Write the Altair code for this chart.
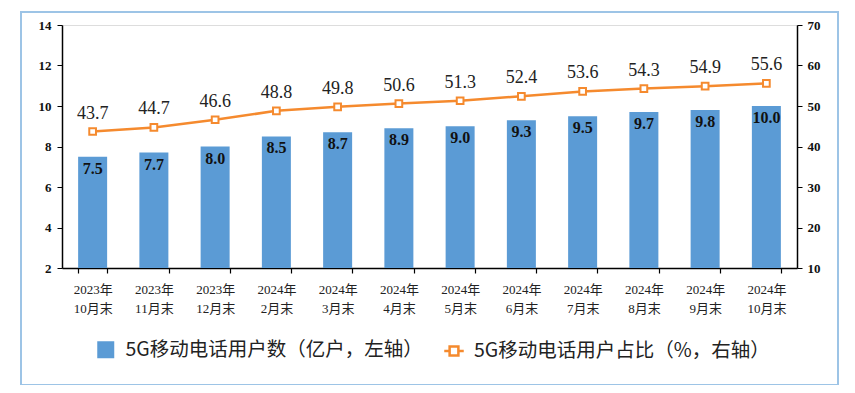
import altair as alt
import pandas as pd

months = ["2023年10月末", "2023年11月末", "2023年12月末", "2024年2月末", "2024年3月末",
          "2024年4月末", "2024年5月末", "2024年6月末", "2024年7月末", "2024年8月末",
          "2024年9月末", "2024年10月末"]
users = [7.5, 7.7, 8.0, 8.5, 8.7, 8.9, 9.0, 9.3, 9.5, 9.7, 9.8, 10.0]
share = [43.7, 44.7, 46.6, 48.8, 49.8, 50.6, 51.3, 52.4, 53.6, 54.3, 54.9, 55.6]

bar_name = "5G移动电话用户数（亿户，左轴）"
line_name = "5G移动电话用户占比（%，右轴）"

df = pd.DataFrame({"month": months, "users": users, "share": share,
                   "s1": bar_name, "s2": line_name})

BLUE = "#5B9BD5"
ORANGE = "#F58A2E"
SERIF = "Liberation Serif, Noto Sans CJK SC"
CJK = "Noto Sans CJK SC"

x = alt.X("month:N", sort=None, title=None,
          scale=alt.Scale(paddingInner=0.52, paddingOuter=0.26),
          axis=alt.Axis(labelAngle=0, tickBand="extent",
                        labelExpr="isString(datum.label) ? [substring(datum.label,0,5), substring(datum.label,5)] : datum.label",
                        labelFont=SERIF, labelFontSize=13, labelColor="#222", labelPadding=10,
                        labelLineHeight=19, tickSize=5, tickColor="black", domainColor="black",
                        domainWidth=1.5, tickWidth=1.2))

base = alt.Chart(df)

frame = base.mark_rect(fillOpacity=0, stroke="#9DC3E6", strokeWidth=1.5).encode(
    x=alt.value(-41), x2=alt.value(776), y=alt.value(-13), y2=alt.value(360))

yl = alt.Y("users:Q", title=None,
           scale=alt.Scale(domain=[2, 14], zero=False, nice=False),
           axis=alt.Axis(orient="left", values=[2, 4, 6, 8, 10, 12, 14], grid=False,
                         labelFont=SERIF, labelFontWeight="bold", labelFontSize=13, labelColor="#111",
                         tickSize=5, tickColor="black", domainColor="black", domainWidth=1.5,
                         labelPadding=6))

bars = base.mark_bar(size=29).encode(
    x=x, y=yl, y2=alt.datum(2),
    fill=alt.Fill("s1:N", scale=alt.Scale(range=[BLUE]),
                  legend=alt.Legend(orient="none", legendX=34, legendY=315, title=None,
                                    symbolType="square", symbolSize=289, symbolStrokeWidth=0,
                                    labelFont=CJK, labelFontSize=19.5, labelColor="#222",
                                    labelOffset=10, labelLimit=400)))

bar_text = base.mark_text(font=SERIF, fontWeight="bold", fontSize=16, color="#111",
                          baseline="middle", dy=12).encode(
    x=x, y=alt.Y("users:Q"), text=alt.Text("users:Q", format=".1f"))

yr = alt.Y("share:Q", title=None,
           scale=alt.Scale(domain=[10, 70], zero=False, nice=False),
           axis=alt.Axis(orient="right", values=[10, 20, 30, 40, 50, 60, 70], grid=False,
                         labelFont=SERIF, labelFontWeight="bold", labelFontSize=13, labelColor="#111",
                         tickSize=5, tickColor="black", domainColor="black", domainWidth=1.5,
                         labelPadding=5))

line = base.mark_line(strokeWidth=2.5).encode(
    x=x, y=yr,
    stroke=alt.Stroke("s2:N", scale=alt.Scale(range=[ORANGE]),
                      legend=alt.Legend(orient="none", legendX=381, legendY=315, title=None,
                                        symbolType="M-1,0L-0.45,0M0.45,0L1,0M-0.45,-0.45L0.45,-0.45L0.45,0.45L-0.45,0.45Z",
                                        symbolSize=380, symbolStrokeWidth=2.5,
                                        symbolFillColor="white",
                                        labelFont=CJK, labelFontSize=19.5, labelColor="#222",
                                        labelOffset=9, labelLimit=400)))

pts = base.mark_point(shape="square", filled=True, fill="white", stroke=ORANGE,
                      strokeWidth=2, size=45, opacity=1).encode(x=x, y=alt.Y("share:Q"))

line_text = base.mark_text(font=SERIF, fontSize=18, color="#222", baseline="middle", dy=-18).encode(
    x=x, y=alt.Y("share:Q"), text=alt.Text("share:Q", format=".1f"))

left = alt.layer(bars, bar_text)
right = alt.layer(line, pts, line_text)

chart = alt.layer(left, right, frame).resolve_scale(y="independent", fill="independent", stroke="independent").properties(
    width=735, height=243,
    padding={"left": 54, "top": 17, "right": 50, "bottom": 117},
    autosize=alt.AutoSizeParams(type="none"),
).configure_view(stroke=None).configure(background="white")

chart.save("out.html", embed_options={"renderer": "svg", "actions": False})
